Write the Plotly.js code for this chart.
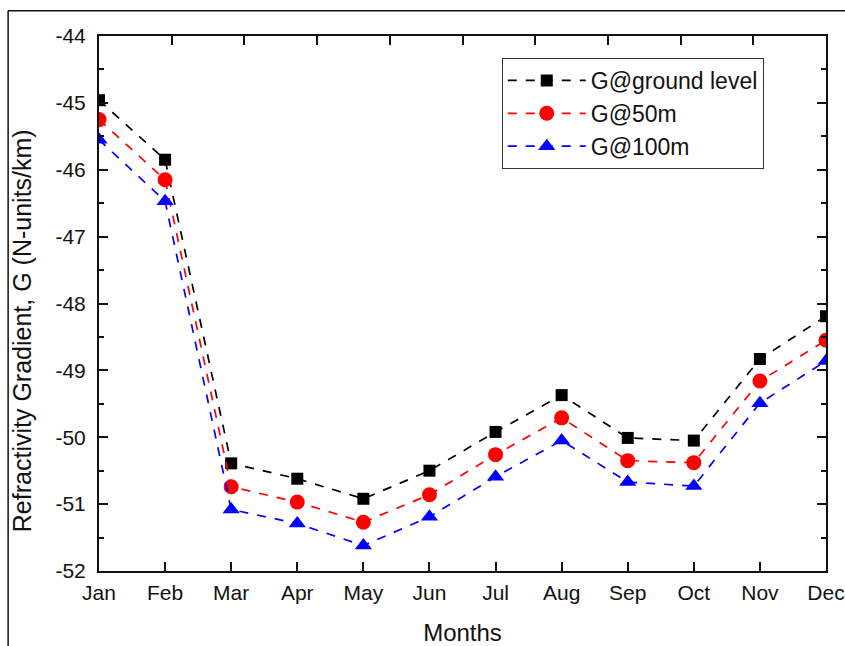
<!DOCTYPE html>
<html>
<head>
<meta charset="utf-8">
<script src="https://cdn.plot.ly/plotly-3.0.1.min.js"></script>
<style>
html,body{margin:0;padding:0;background:#fff;}
#chart{width:845px;height:646px;}
</style>
</head>
<body>
<div id="chart"></div>
<script>
const months = ["Jan","Feb","Mar","Apr","May","Jun","Jul","Aug","Sep","Oct","Nov","Dec"];
const gGround = [-44.96,-45.85,-50.39,-50.62,-50.92,-50.50,-49.92,-49.37,-50.01,-50.05,-48.83,-48.19];
const g50m    = [-45.25,-46.15,-50.74,-50.97,-51.27,-50.86,-50.26,-49.71,-50.35,-50.38,-49.16,-48.55];
const g100m   = [-45.55,-46.47,-51.08,-51.29,-51.62,-51.19,-50.59,-50.05,-50.67,-50.73,-49.49,-48.86];
const yTickVals = [-52,-51,-50,-49,-48,-47,-46,-45,-44];
const yTickText = ["-52","-51","-50","-49","-48","-47","-46","-45","-44"];
const yTitle = "Refractivity Gradient, G (N-units/km)";

const fontFam = "Liberation Sans, Arial, sans-serif";
function tr(name, y, color, symbol, size){
  return {x: months, y: y, name: name, type: "scatter", mode: "lines+markers",
    line: {color: color, width: 1.7, dash: "dash"},
    marker: {color: color, symbol: symbol, size: size}};
}
const data = [
  tr("G@ground level", gGround, "#000000", "square", 12),
  tr("G@50m", g50m, "#ff0000", "circle", 15),
  tr("G@100m", g100m, "#0000ff", "triangle-up", 15),
  {x:[0,10], y:[-44,-44], xaxis:"x2", yaxis:"y", type:"scatter", mode:"none", showlegend:false, hoverinfo:"skip"}
];
const layout = {
  width: 845, height: 646,
  margin: {l: 99, r: 19, t: 36, b: 75},
  paper_bgcolor: "#fff", plot_bgcolor: "#fff",
  font: {family: fontFam, color: "#111", size: 21},
  showlegend: true,
  legend: {x: 0.554, y: 0.959, xanchor: "left", yanchor: "top",
    bordercolor: "#333", borderwidth: 1, bgcolor: "#fff",
    font: {size: 23, family: fontFam}, tracegroupgap: 0, itemwidth: 78},
  xaxis: {type: "category", range: [0, 11], showgrid: false, zeroline: false,
    showline: true, linecolor: "#111", linewidth: 2, mirror: false,
    ticks: "inside", ticklen: 9, tickwidth: 2, tickcolor: "#111", ticklabelstandoff: 2,
    tickfont: {size: 21}, title: {text: "Months", font: {size: 24}, standoff: 24}},
  xaxis2: {overlaying: "x", side: "top", range: [0, 10], dtick: 1, tick0: 0,
    showgrid: false, zeroline: false, showline: true, linecolor: "#111", linewidth: 2,
    ticks: "inside", ticklen: 9, tickwidth: 2, tickcolor: "#111", showticklabels: false},
  yaxis: {range: [-52, -44], tickvals: yTickVals, ticktext: yTickText,
    showgrid: false, zeroline: false, showline: true, linecolor: "#111", linewidth: 2,
    mirror: "ticks", ticks: "inside", ticklen: 9, tickwidth: 2, tickcolor: "#111", ticklabelstandoff: 7,
    minor: {dtick: 0.5, ticks: "inside", ticklen: 5, tickwidth: 2, tickcolor: "#111", showgrid: false},
    tickfont: {size: 21}},
  annotations: [
    {text: yTitle, xref: "paper", yref: "paper", x: -0.106, y: 0.45, xanchor: "center", yanchor: "middle",
     textangle: -90, showarrow: false, font: {size: 25, family: fontFam, color: "#111"}}
  ],
  shapes: [
    {type: "line", xref: "paper", yref: "paper", x0: -0.125, x1: -0.125, y0: -0.3, y1: 1.047, line: {color: "#111", width: 1.5}},
    {type: "line", xref: "paper", yref: "paper", x0: -0.125, x1: 1.03, y0: 1.047, y1: 1.047, line: {color: "#111", width: 1.5}}
  ]
};
Plotly.newPlot("chart", data, layout, {displayModeBar: false, staticPlot: true});
</script>
</body>
</html>
